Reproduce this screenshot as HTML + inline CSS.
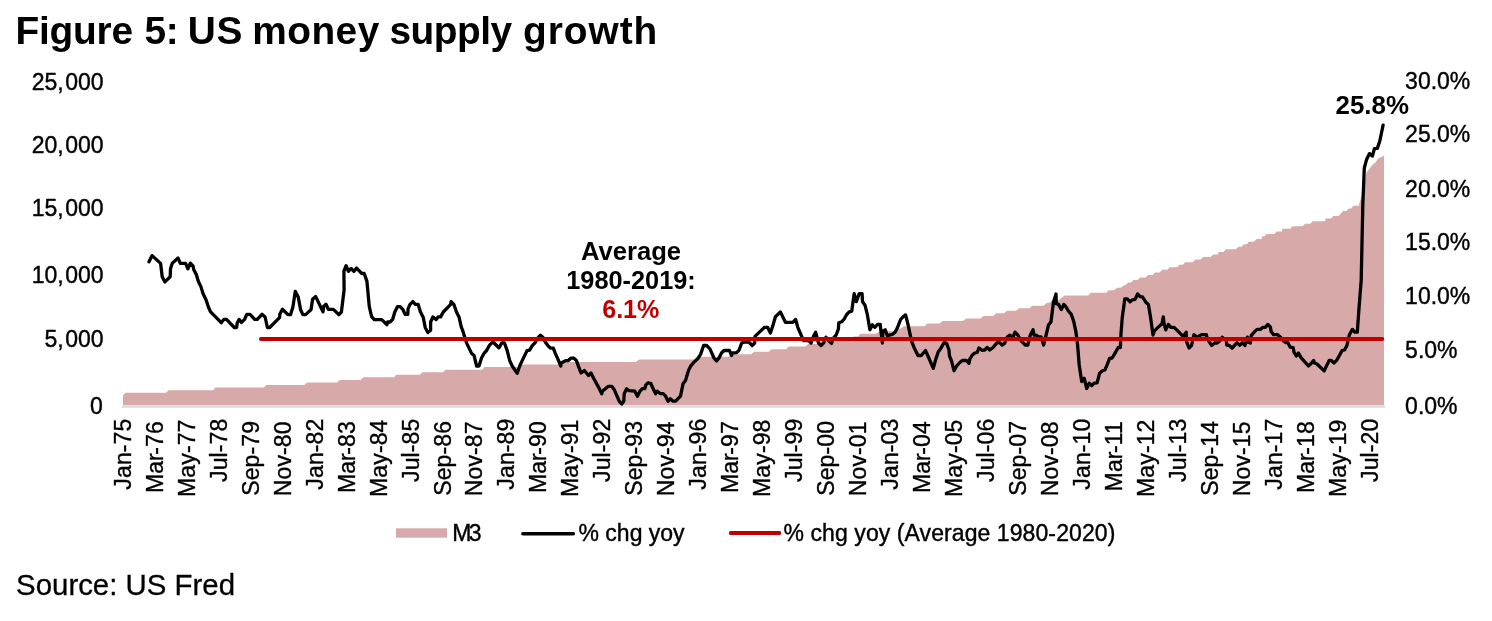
<!DOCTYPE html>
<html lang="en"><head><meta charset="utf-8"><title>Figure 5: US money supply growth</title>
<style>
html,body{margin:0;padding:0;background:#fff;}
body{width:1492px;height:621px;overflow:hidden;}
svg{display:block;}
text{font-family:"Liberation Sans", Arial, Helvetica, sans-serif;fill:#000;}
.ax{font-size:23px;stroke:#000;stroke-width:0.4px;}
.xl{font-size:23px;stroke-width:0.35px;letter-spacing:0.12px;}
.b{font-weight:bold;}
</style></head><body>
<svg width="1492" height="621" viewBox="0 0 1492 621">
<rect width="1492" height="621" fill="#fff"/>
<text class="b" font-size="38.85" y="43.7" xml:space="preserve"><tspan x="15.5" textLength="117.53" lengthAdjust="spacing">Figure</tspan> <tspan x="144.6" textLength="34.03" lengthAdjust="spacing">5:</tspan> <tspan x="187.67" textLength="54.75" lengthAdjust="spacing">US</tspan> <tspan x="252.14" textLength="127.2" lengthAdjust="spacing">money</tspan> <tspan x="389.43" textLength="122.67" lengthAdjust="spacing">supply</tspan> <tspan x="523.01" textLength="134.3" lengthAdjust="spacing">growth</tspan></text>
<path d="M123.0,405.20 L123.0,395.26 L125.4,392.70 L166.1,392.70 L168.6,390.14 L213.0,390.14 L215.5,387.58 L263.8,387.58 L266.3,385.02 L304.3,385.02 L307.2,382.46 L337.0,382.46 L339.9,379.90 L360.7,379.90 L363.3,377.34 L393.9,377.34 L396.4,374.78 L420.0,374.78 L422.5,372.22 L443.0,372.22 L445.5,369.66 L482.3,369.66 L484.5,367.10 L520.0,367.10 L522.6,364.54 L559.0,364.54 L561.5,361.98 L636.0,361.98 L638.9,359.42 L696.5,359.42 L699.0,356.86 L728.3,356.86 L731.3,354.30 L751.2,354.30 L754.2,351.74 L768.7,351.74 L771.7,349.18 L786.2,349.18 L788.6,346.62 L805.5,346.62 L808.0,344.06 L823.6,344.06 L826.6,341.50 L835.6,341.50 L838.0,338.94 L851.3,338.94 L853.7,336.38 L858.1,336.38 L860.5,333.82 L876.2,333.82 L879.8,331.26 L894.3,331.26 L897.3,328.70 L900.3,328.70 L903.9,326.14 L924.5,326.14 L927.5,323.58 L939.5,323.58 L942.5,321.02 L963.0,321.02 L966.0,318.46 L980.5,318.46 L983.6,315.90 L993.2,315.90 L996.2,313.34 L1004.0,313.34 L1007.0,310.78 L1016.0,310.78 L1019.0,308.22 L1029.7,308.22 L1032.1,305.66 L1043.6,305.66 L1046.6,303.10 L1049.0,303.10 L1052.0,300.54 L1058.0,300.54 L1061.5,297.98 L1061.5,297.98 L1065.0,295.42 L1088.2,295.42 L1090.7,292.86 L1106.3,292.86 L1108.8,290.30 L1114.2,290.30 L1117.2,287.74 L1120.8,287.74 L1123.8,285.18 L1125.6,285.18 L1128.0,282.62 L1131.0,282.62 L1133.5,280.06 L1137.7,280.06 L1140.1,277.50 L1145.6,277.50 L1148.0,274.94 L1152.5,274.94 L1155.0,272.38 L1159.6,272.38 L1162.2,269.82 L1167.4,269.82 L1169.6,267.26 L1177.0,267.26 L1179.6,264.70 L1182.7,264.70 L1185.3,262.14 L1192.7,262.14 L1195.3,259.58 L1200.5,259.58 L1203.2,257.02 L1210.6,257.02 L1213.2,254.46 L1218.0,254.46 L1218.4,251.90 L1223.6,251.90 L1225.8,249.34 L1235.8,249.34 L1238.4,246.78 L1241.5,246.78 L1243.7,244.22 L1246.7,244.22 L1248.9,241.66 L1253.7,241.66 L1256.7,239.10 L1261.5,239.10 L1262.0,236.54 L1264.1,236.54 L1266.8,233.98 L1274.3,233.98 L1276.8,231.42 L1282.0,231.42 L1282.4,228.86 L1290.3,228.86 L1292.4,226.30 L1302.5,226.30 L1305.1,223.74 L1310.3,223.74 L1312.7,221.18 L1325.1,221.18 L1325.6,218.62 L1331.2,218.62 L1333.4,216.06 L1338.6,216.06 L1340.8,213.50 L1340.8,213.50 L1343.0,210.94 L1346.5,210.94 L1348.6,208.38 L1351.3,208.38 L1353.4,205.82 L1358.7,205.80 L1361.7,195.50 L1364.0,184.00 L1366.6,172.40 L1369.6,168.40 L1372.6,164.70 L1375.6,162.30 L1378.6,158.10 L1381.7,156.90 L1384.0,155.50 L1384.0,405.20Z" fill="#D8A9A9"/>
<line x1="121.7" x2="1385.2" y1="406.6" y2="406.6" stroke="#DADADA" stroke-width="2.4"/>
<path d="M149.0,261.8 L152.1,255.6 L160.6,263.4 L162.2,276.8 L164.9,281.9 L170.2,276.8 L170.5,268.8 L172.2,263.4 L178.0,258.0 L180.3,263.4 L185.6,263.4 L187.9,268.8 L190.3,263.1 L193.0,265.8 L193.7,269.4 L196.4,274.8 L198.4,281.5 L201.0,286.9 L203.0,293.6 L206.1,299.9 L208.4,307.0 L210.4,311.7 L221.2,322.7 L223.8,319.4 L226.5,319.4 L234.3,327.5 L236.6,327.5 L237.2,323.0 L239.2,319.4 L241.5,322.4 L244.6,319.4 L246.9,314.3 L250.0,314.3 L254.7,319.4 L257.3,319.4 L262.0,314.3 L265.1,317.0 L267.4,327.5 L269.7,327.5 L279.5,317.7 L279.9,314.1 L282.4,309.2 L287.9,314.6 L290.6,314.6 L292.9,307.0 L295.3,291.3 L298.2,296.9 L300.6,309.7 L302.9,314.6 L305.6,314.6 L311.0,309.7 L312.6,299.3 L315.7,296.6 L323.0,311.9 L323.7,306.3 L326.0,304.3 L328.3,309.3 L333.4,309.3 L338.8,314.7 L341.4,312.0 L344.1,289.9 L343.9,271.1 L346.1,265.7 L348.4,271.4 L351.1,268.4 L353.9,271.4 L356.5,268.1 L361.8,273.5 L364.2,273.5 L366.9,281.1 L369.3,306.6 L371.6,316.7 L374.3,319.6 L381.7,319.6 L387.0,324.7 L387.7,322.0 L390.0,322.0 L392.7,319.3 L394.8,312.0 L397.5,306.6 L400.2,306.6 L402.8,309.3 L405.1,314.4 L407.8,314.4 L408.1,308.6 L410.1,304.3 L412.8,301.6 L415.4,304.3 L418.1,304.3 L420.5,312.0 L423.2,317.3 L425.2,327.4 L427.9,332.5 L430.6,330.3 L430.6,322.0 L432.9,316.9 L436.0,319.6 L438.2,316.9 L440.6,316.9 L443.3,312.0 L450.7,304.3 L451.1,301.6 L453.8,304.3 L456.5,312.0 L459.1,317.3 L461.4,327.4 L462.5,329.9 L466.6,343.1 L471.6,353.4 L474.1,355.6 L476.6,366.0 L479.0,366.0 L481.5,358.1 L484.0,353.4 L486.5,350.6 L489.8,344.8 L492.8,341.8 L498.9,347.8 L501.9,342.8 L504.4,342.8 L507.2,350.6 L509.7,360.6 L512.2,366.0 L517.2,373.3 L519.7,366.0 L522.2,360.6 L527.1,350.6 L529.6,350.1 L532.6,345.1 L535.1,342.8 L537.9,337.8 L540.4,335.2 L542.9,337.3 L545.4,342.3 L547.9,345.6 L550.4,348.1 L553.3,348.1 L555.3,353.4 L557.8,358.9 L560.8,366.0 L561.1,363.0 L566.1,360.6 L568.3,360.6 L571.1,358.1 L573.6,358.1 L576.4,360.6 L578.5,366.4 L581.0,373.0 L584.4,370.5 L588.5,375.5 L591.0,373.0 L593.5,378.0 L598.9,387.9 L601.8,393.7 L602.3,391.2 L608.4,386.3 L611.7,386.3 L614.2,389.6 L616.7,395.4 L619.2,401.2 L621.7,404.0 L623.8,401.2 L624.2,393.7 L626.6,388.7 L629.1,390.7 L634.9,391.2 L637.4,396.2 L639.9,391.2 L642.4,388.7 L644.9,388.7 L645.7,385.1 L647.9,382.9 L650.7,383.3 L653.2,388.7 L655.7,393.7 L657.3,391.2 L660.6,393.7 L663.1,393.7 L665.6,396.2 L668.1,401.2 L670.3,398.7 L673.1,401.2 L675.6,401.2 L680.5,396.2 L683.0,383.8 L685.5,380.5 L688.5,370.5 L690.5,366.4 L693.3,362.9 L698.3,358.0 L700.8,353.8 L703.6,345.5 L706.6,345.5 L709.9,348.8 L714.0,358.0 L716.5,361.0 L719.0,358.0 L721.5,353.0 L724.0,350.5 L729.5,350.5 L731.5,355.5 L732.3,353.0 L736.4,352.7 L738.9,350.5 L741.7,343.0 L743.9,342.2 L748.9,342.2 L752.2,345.5 L754.7,343.0 L755.0,336.4 L759.7,331.9 L764.6,327.3 L767.6,327.3 L770.4,333.1 L772.9,325.6 L775.4,316.8 L780.4,311.9 L785.4,322.3 L792.8,322.3 L795.6,319.5 L797.8,327.3 L800.3,333.1 L803.6,340.6 L808.6,340.6 L811.1,343.0 L813.5,336.4 L815.7,332.3 L818.5,343.0 L821.0,345.5 L823.5,343.0 L826.0,337.2 L828.5,340.6 L831.5,343.4 L833.4,338.1 L836.3,334.8 L838.4,328.9 L838.8,322.8 L841.7,321.8 L844.2,319.0 L846.7,314.5 L849.2,311.9 L851.7,311.2 L854.2,293.6 L856.3,301.6 L859.2,293.6 L862.1,293.6 L862.5,301.6 L865.0,305.2 L867.4,314.9 L869.9,329.8 L872.4,324.8 L874.9,327.3 L877.4,324.5 L880.2,324.5 L882.4,343.0 L882.9,331.4 L885.2,329.8 L887.3,335.6 L892.3,334.4 L895.1,332.3 L897.3,328.1 L900.6,319.5 L903.1,316.8 L905.6,314.9 L908.1,324.8 L911.4,340.6 L913.9,347.2 L918.0,355.5 L921.3,355.5 L925.5,350.5 L928.3,356.7 L933.3,368.3 L935.8,359.1 L938.3,351.7 L940.8,348.4 L944.1,342.6 L946.6,343.4 L949.0,350.0 L949.5,355.8 L951.5,360.8 L954.0,370.7 L956.5,366.3 L959.0,363.3 L962.3,360.5 L966.5,360.5 L969.0,363.3 L969.8,359.1 L972.3,355.0 L974.8,353.0 L977.2,352.5 L978.9,348.0 L982.2,350.3 L984.7,350.0 L987.2,347.5 L989.7,350.0 L993.0,347.5 L997.1,342.6 L999.6,342.6 L1002.1,345.0 L1004.6,343.4 L1007.4,336.8 L1009.9,335.1 L1012.6,338.4 L1015.0,332.1 L1017.9,335.1 L1020.4,340.1 L1025.3,345.0 L1027.8,345.0 L1030.3,335.1 L1033.1,329.8 L1034.0,335.1 L1036.1,335.1 L1038.6,336.8 L1041.1,336.8 L1043.6,345.0 L1046.1,335.1 L1048.5,325.1 L1051.0,321.8 L1053.5,301.9 L1056.0,294.0 L1056.3,303.6 L1058.5,304.4 L1061.3,309.4 L1063.8,304.4 L1066.0,306.9 L1068.4,311.0 L1071.3,314.4 L1073.8,321.8 L1075.9,331.8 L1077.6,345.0 L1079.2,364.9 L1081.7,381.5 L1084.2,378.2 L1086.7,388.5 L1089.2,383.2 L1091.7,385.7 L1094.2,383.2 L1097.1,382.9 L1099.6,373.2 L1102.4,370.7 L1104.9,369.9 L1107.1,364.9 L1109.6,358.3 L1112.1,358.0 L1114.9,353.3 L1118.2,347.5 L1120.4,347.5 L1121.0,333.4 L1122.3,316.9 L1124.8,298.9 L1127.3,298.9 L1130.1,301.9 L1132.3,299.9 L1135.1,299.4 L1137.6,294.0 L1140.1,296.6 L1142.6,297.0 L1145.6,301.9 L1148.4,304.4 L1150.5,316.9 L1153.0,335.1 L1154.4,330.9 L1157.2,328.1 L1160.5,325.1 L1162.0,323.9 L1163.3,316.8 L1164.1,323.9 L1165.8,329.8 L1168.3,324.4 L1170.8,327.3 L1174.1,327.3 L1178.2,331.4 L1183.2,336.4 L1186.2,332.2 L1186.5,341.4 L1189.0,348.0 L1191.5,345.5 L1194.0,334.7 L1197.3,337.2 L1201.5,334.7 L1206.4,334.7 L1206.9,337.2 L1208.9,341.4 L1211.7,345.5 L1214.7,343.0 L1217.2,343.0 L1219.7,341.0 L1222.2,337.2 L1226.3,340.5 L1226.8,345.2 L1229.3,345.5 L1232.1,348.0 L1237.1,342.7 L1239.6,345.2 L1242.4,342.7 L1244.9,345.5 L1247.4,337.2 L1247.9,342.2 L1250.4,343.0 L1251.2,335.6 L1254.5,331.7 L1257.0,329.4 L1260.3,329.4 L1262.8,327.3 L1265.3,327.3 L1267.8,324.4 L1270.3,326.9 L1271.1,331.4 L1273.6,334.7 L1277.7,334.7 L1280.2,336.9 L1283.5,341.0 L1286.0,342.7 L1288.0,342.7 L1290.2,347.2 L1293.2,347.7 L1294.0,352.1 L1296.3,356.0 L1298.5,353.0 L1301.0,357.6 L1308.4,365.9 L1310.9,363.7 L1313.7,360.4 L1314.2,362.9 L1316.7,363.7 L1324.2,370.9 L1326.7,365.4 L1329.2,360.4 L1331.3,360.4 L1334.1,362.9 L1336.6,360.4 L1339.1,356.0 L1342.1,350.5 L1344.6,350.0 L1346.9,345.5 L1349.4,334.7 L1352.4,329.4 L1354.9,332.2 L1357.3,332.2 L1359.0,308.2 L1361.2,280.0 L1362.8,204.8 L1364.3,168.1 L1366.6,159.4 L1369.5,153.6 L1372.4,156.1 L1374.4,148.7 L1377.3,148.4 L1379.8,141.0 L1383.1,125.2" fill="none" stroke="#000" stroke-width="3.3" stroke-linejoin="round" stroke-linecap="round"/>
<line x1="260.9" x2="1382.3" y1="338.95" y2="338.95" stroke="#C00000" stroke-width="3.95" stroke-linecap="round"/>
<text class="ax" x="103.6" y="89.50" text-anchor="end">25,<tspan dx="1.5">000</tspan></text>
<text class="ax" x="103.6" y="153.35" text-anchor="end">20,<tspan dx="1.5">000</tspan></text>
<text class="ax" x="103.6" y="216.25" text-anchor="end">15,<tspan dx="1.5">000</tspan></text>
<text class="ax" x="103.6" y="283.05" text-anchor="end">10,<tspan dx="1.5">000</tspan></text>
<text class="ax" x="103.6" y="347.25" text-anchor="end">5,<tspan dx="1.5">000</tspan></text>
<text class="ax" x="102.8" y="414.00" text-anchor="end">0</text>
<text class="ax" x="1405.1" y="89.45">30.0%</text>
<text class="ax" x="1405.1" y="142.40">25.0%</text>
<text class="ax" x="1405.1" y="196.50">20.0%</text>
<text class="ax" x="1405.1" y="250.40">15.0%</text>
<text class="ax" x="1405.1" y="303.80">10.0%</text>
<text class="ax" x="1405.1" y="357.60">5.0%</text>
<text class="ax" x="1405.1" y="413.70">0.0%</text>
<text class="ax xl" transform="translate(130.7,418.6) rotate(-90)" text-anchor="end">Jan-75</text>
<text class="ax xl" transform="translate(162.7,421.1) rotate(-90)" text-anchor="end">Mar<tspan dx="-1.6">-76</tspan></text>
<text class="ax xl" transform="translate(194.7,419.5) rotate(-90)" text-anchor="end">May-77</text>
<text class="ax xl" transform="translate(226.6,418.6) rotate(-90)" text-anchor="end">Jul-78</text>
<text class="ax xl" transform="translate(258.6,420.9) rotate(-90)" text-anchor="end">Sep-79</text>
<text class="ax xl" transform="translate(290.6,421.3) rotate(-90)" text-anchor="end">Nov-80</text>
<text class="ax xl" transform="translate(322.6,418.6) rotate(-90)" text-anchor="end">Jan-82</text>
<text class="ax xl" transform="translate(354.5,421.1) rotate(-90)" text-anchor="end">Mar<tspan dx="-1.6">-83</tspan></text>
<text class="ax xl" transform="translate(386.5,419.5) rotate(-90)" text-anchor="end">May-84</text>
<text class="ax xl" transform="translate(418.5,418.6) rotate(-90)" text-anchor="end">Jul-85</text>
<text class="ax xl" transform="translate(450.5,420.9) rotate(-90)" text-anchor="end">Sep-86</text>
<text class="ax xl" transform="translate(482.4,421.3) rotate(-90)" text-anchor="end">Nov-87</text>
<text class="ax xl" transform="translate(514.4,418.6) rotate(-90)" text-anchor="end">Jan-89</text>
<text class="ax xl" transform="translate(546.4,421.1) rotate(-90)" text-anchor="end">Mar<tspan dx="-1.6">-90</tspan></text>
<text class="ax xl" transform="translate(578.4,419.5) rotate(-90)" text-anchor="end">May-91</text>
<text class="ax xl" transform="translate(610.3,418.6) rotate(-90)" text-anchor="end">Jul-92</text>
<text class="ax xl" transform="translate(642.3,420.9) rotate(-90)" text-anchor="end">Sep-93</text>
<text class="ax xl" transform="translate(674.3,421.3) rotate(-90)" text-anchor="end">Nov-94</text>
<text class="ax xl" transform="translate(706.3,418.6) rotate(-90)" text-anchor="end">Jan-96</text>
<text class="ax xl" transform="translate(738.2,421.1) rotate(-90)" text-anchor="end">Mar<tspan dx="-1.6">-97</tspan></text>
<text class="ax xl" transform="translate(770.2,419.5) rotate(-90)" text-anchor="end">May-98</text>
<text class="ax xl" transform="translate(802.2,418.6) rotate(-90)" text-anchor="end">Jul-99</text>
<text class="ax xl" transform="translate(834.2,420.9) rotate(-90)" text-anchor="end">Sep-00</text>
<text class="ax xl" transform="translate(866.1,421.3) rotate(-90)" text-anchor="end">Nov-01</text>
<text class="ax xl" transform="translate(898.1,418.6) rotate(-90)" text-anchor="end">Jan-03</text>
<text class="ax xl" transform="translate(930.1,421.1) rotate(-90)" text-anchor="end">Mar<tspan dx="-1.6">-04</tspan></text>
<text class="ax xl" transform="translate(962.1,419.5) rotate(-90)" text-anchor="end">May-05</text>
<text class="ax xl" transform="translate(994.1,418.6) rotate(-90)" text-anchor="end">Jul-06</text>
<text class="ax xl" transform="translate(1026.0,420.9) rotate(-90)" text-anchor="end">Sep-07</text>
<text class="ax xl" transform="translate(1058.0,421.3) rotate(-90)" text-anchor="end">Nov-08</text>
<text class="ax xl" transform="translate(1090.0,418.6) rotate(-90)" text-anchor="end">Jan-10</text>
<text class="ax xl" transform="translate(1122.0,421.1) rotate(-90)" text-anchor="end">Mar<tspan dx="-1.6">-11</tspan></text>
<text class="ax xl" transform="translate(1153.9,419.5) rotate(-90)" text-anchor="end">May-12</text>
<text class="ax xl" transform="translate(1185.9,418.6) rotate(-90)" text-anchor="end">Jul-13</text>
<text class="ax xl" transform="translate(1217.9,420.9) rotate(-90)" text-anchor="end">Sep-14</text>
<text class="ax xl" transform="translate(1249.9,421.3) rotate(-90)" text-anchor="end">Nov-15</text>
<text class="ax xl" transform="translate(1281.8,418.6) rotate(-90)" text-anchor="end">Jan-17</text>
<text class="ax xl" transform="translate(1313.8,421.1) rotate(-90)" text-anchor="end">Mar<tspan dx="-1.6">-18</tspan></text>
<text class="ax xl" transform="translate(1345.8,419.5) rotate(-90)" text-anchor="end">May-19</text>
<text class="ax xl" transform="translate(1377.8,418.6) rotate(-90)" text-anchor="end">Jul-20</text>
<text class="b" x="631" y="259.8" font-size="25.6" text-anchor="middle">Average</text>
<text class="b" x="631" y="289.2" font-size="25.3" text-anchor="middle">1980-2019:</text>
<text class="b" x="630.8" y="318.3" font-size="25.1" text-anchor="middle" style="fill:#C00000">6.1%</text>
<text class="b" x="1372.2" y="113.9" font-size="25.9" text-anchor="middle">25.8%</text>
<rect x="396" y="528.3" width="51" height="9.4" fill="#D8A9A9"/>
<text class="ax" x="452.2" y="541">M<tspan dx="-2.6">3</tspan></text>
<line x1="522.8" x2="573.4" y1="533.8" y2="533.8" stroke="#000" stroke-width="3.4" stroke-linecap="round"/>
<text class="ax" x="578.5" y="541">% chg yoy</text>
<line x1="730.7" x2="779.4" y1="533" y2="533" stroke="#C00000" stroke-width="3.8" stroke-linecap="round"/>
<text class="ax" x="783.5" y="541" textLength="331.8" lengthAdjust="spacing">% chg yoy (Average 1980-2020)</text>
<text x="16.1" y="595.4" font-size="29.4" style="stroke:#000;stroke-width:0.3px">Source: US Fred</text>
</svg></body></html>
